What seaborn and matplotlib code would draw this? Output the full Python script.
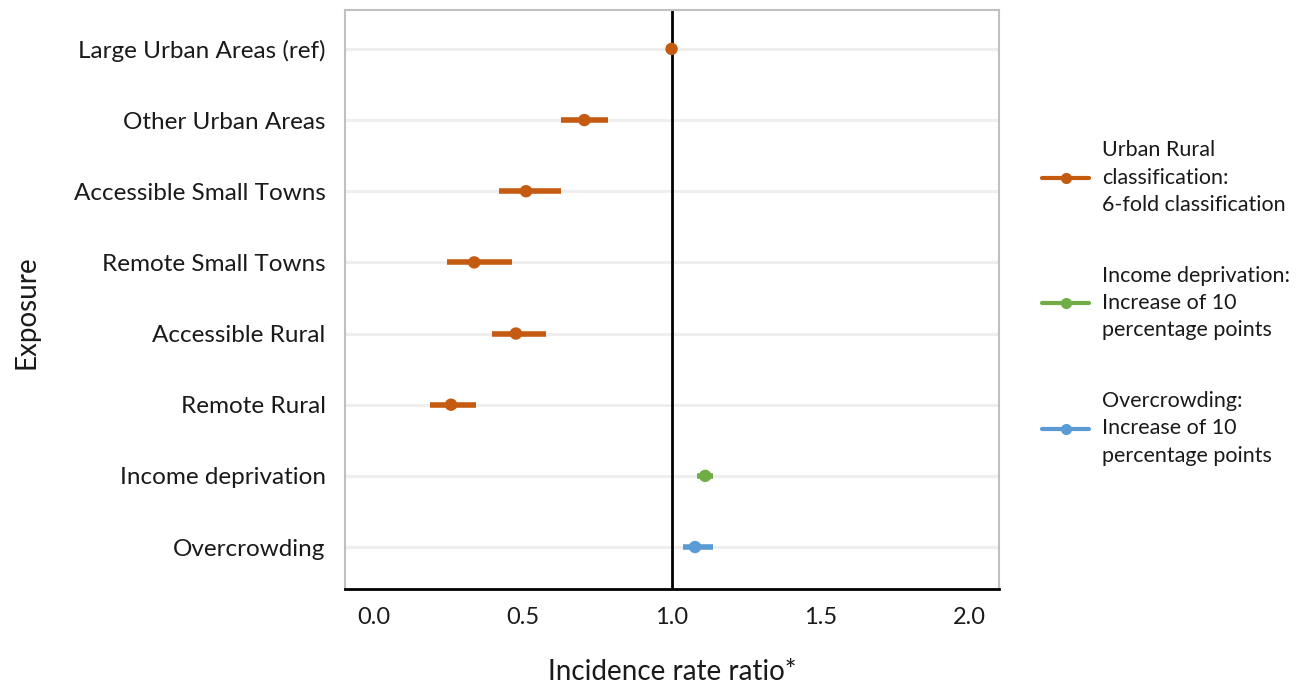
import pandas as pd
import numpy as np
import matplotlib
matplotlib.use('Agg')
import matplotlib.pyplot as plt
from matplotlib.lines import Line2D
import seaborn as sns

# --- Data ---
exposures = ['Large Urban Areas (ref)', 'Other Urban Areas', 'Accessible Small Towns',
             'Remote Small Towns', 'Accessible Rural', 'Remote Rural',
             'Income deprivation', 'Overcrowding']
groups = ['urban', 'urban', 'urban', 'urban', 'urban', 'urban', 'income', 'crowd']
irr = [1.0, 0.707, 0.511, 0.337, 0.477, 0.259, 1.113, 1.079]
ci_low = [1.0, 0.627, 0.419, 0.245, 0.397, 0.189, 1.087, 1.040]
ci_high = [1.0, 0.788, 0.627, 0.464, 0.578, 0.343, 1.138, 1.138]

group_labels = {
    'urban': 'Urban Rural\nclassification:\n6-fold classification',
    'income': 'Income deprivation:\nIncrease of 10\npercentage points',
    'crowd': 'Overcrowding:\nIncrease of 10\npercentage points',
}
palette = {'urban': '#C55A11', 'income': '#70AD47', 'crowd': '#5B9BD5'}

df = pd.DataFrame({'Exposure': exposures, 'group': groups, 'IRR': irr,
                   'lo': ci_low, 'hi': ci_high})

sns.set_style('white')
plt.rcParams['font.family'] = ['Lato', 'DejaVu Sans']

fig = plt.figure(figsize=(13.05, 6.84), dpi=100)
ax = fig.add_axes([0.2644, 0.1389, 0.5011, 0.8465])

# light horizontal gridlines at each exposure
for e in exposures:
    ax.axhline(e, color='#eeeeee', lw=2, zorder=0)

# reference line at 1
ax.axvline(1.0, color='black', lw=2, zorder=1)

# confidence intervals
for g, sub in df.groupby('group'):
    ax.hlines(sub['Exposure'], sub['lo'], sub['hi'], color=palette[g], lw=4, zorder=2)

sns.scatterplot(data=df, x='IRR', y='Exposure', hue='group', palette=palette,
                s=80, edgecolor='none', legend=False, zorder=3, ax=ax)

ax.set_xlim(-0.097, 2.10)
ax.set_ylim(len(exposures) - 1 + 0.59, -0.547)
ax.set_xticks([0.0, 0.5, 1.0, 1.5, 2.0])
ax.set_xticklabels(['0.0', '0.5', '1.0', '1.5', '2.0'])
ax.tick_params(axis='x', length=8, width=2, color='black', labelsize=17, pad=5, direction='out')
ax.tick_params(axis='y', length=0, labelsize=17.5, pad=14)
for lab in ax.get_yticklabels() + ax.get_xticklabels():
    lab.set_color('#1a1a1a')

ax.set_xlabel('Incidence rate ratio*', fontsize=20, labelpad=22, color='#1a1a1a')
ax.set_ylabel('')
# y title placed in figure coordinates so it stays inside the canvas
fig.text(27 / 1305, 1 - 312 / 684, 'Exposure', rotation=90, ha='center', va='center',
         fontsize=20, color='#1a1a1a')

for side in ['left', 'top', 'right']:
    ax.spines[side].set_color('#c0c0c0')
    ax.spines[side].set_linewidth(1.5)
ax.spines['bottom'].set_color('black')
ax.spines['bottom'].set_linewidth(2)

# legend
handles = [Line2D([0], [0], color=palette[g], lw=3, marker='o', markersize=7)
           for g in ['urban', 'income', 'crowd']]
labels = [group_labels[g] for g in ['urban', 'income', 'crowd']]
leg = fig.legend(handles, labels, loc='center left', bbox_to_anchor=(0.7837, 0.557),
                 frameon=False, fontsize=15.5, labelspacing=2.37, handlelength=2.2,
                 handletextpad=0.6, labelcolor='#1a1a1a')
for t in leg.get_texts():
    t.set_linespacing(1.45)

fig.savefig('out.png', dpi=100)
